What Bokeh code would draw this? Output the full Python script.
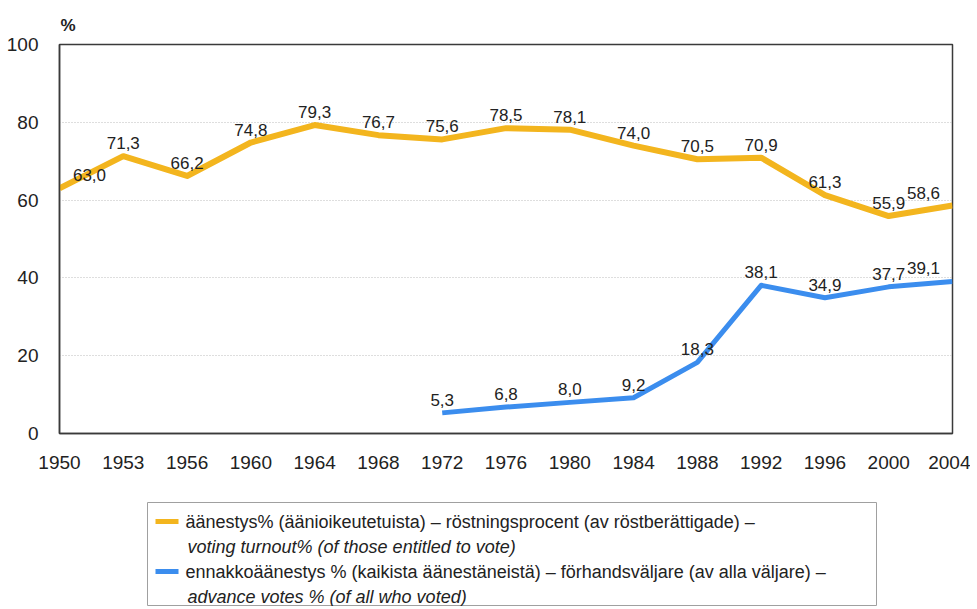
from bokeh.plotting import figure
from bokeh.models import ColumnDataSource, Range1d, FixedTicker, Spacer
from bokeh.layouts import column, row
from bokeh.embed import file_html
from bokeh.resources import INLINE
from bokeh.core.properties import value

years = ["1950", "1953", "1956", "1960", "1964", "1968", "1972", "1976",
         "1980", "1984", "1988", "1992", "1996", "2000", "2004"]
turnout = [63.0, 71.3, 66.2, 74.8, 79.3, 76.7, 75.6, 78.5, 78.1, 74.0,
           70.5, 70.9, 61.3, 55.9, 58.6]
advance_years = ["1972", "1976", "1980", "1984", "1988", "1992", "1996", "2000", "2004"]
advance = [5.3, 6.8, 8.0, 9.2, 18.3, 38.1, 34.9, 37.7, 39.1]
y_ticks = [0, 20, 40, 60, 80, 100]

legend_lines = [
    "äänestys% (äänioikeutetuista) – röstningsprocent (av röstberättigade) –",
    "voting turnout% (of those entitled to vote)",
    "ennakkoäänestys % (kaikista äänestäneistä) – förhandsväljare (av alla väljare)  –",
    "advance votes % (of all who voted)",
]

YELLOW = "#F3B51E"
BLUE = "#3B8DEE"
FONT = "Liberation Sans"
TXT = "#222222"

def fmt(v):
    return f"{v:.1f}".replace(".", ",")

def make_source(ys, vals):
    xs = [years.index(y) for y in ys]
    offs = [0] * len(xs)
    if xs[0] == 0:
        offs[0] = 30
    if xs[-1] == len(years) - 1:
        offs[-1] = -29
    return ColumnDataSource(dict(x=xs, y=vals, label=[fmt(v) for v in vals], xo=offs))

p = figure(width=970, height=502, output_backend="svg", toolbar_location=None,
           x_range=Range1d(0, len(years) - 1), y_range=Range1d(0, 100),
           min_border_left=59, min_border_right=18, min_border_top=44, min_border_bottom=69,
           title="%")
p.title.align = "left"
p.title.offset = 1
p.title.text_font = FONT
p.title.text_font_size = "17px"
p.title.text_font_style = "bold"
p.title.text_color = TXT
p.title.standoff = 19

p.background_fill_color = "white"
p.border_fill_color = "white"
p.outline_line_color = "#3a3a3a"
p.outline_line_width = 1.5

src_t = make_source(years, turnout)
src_a = make_source(advance_years, advance)

p.line("x", "y", source=src_t, line_color=YELLOW, line_width=6, line_join="round")
p.line("x", "y", source=src_a, line_color=BLUE, line_width=5, line_join="round")

for src in (src_t, src_a):
    p.text("x", "y", text="label", source=src, x_offset="xo", y_offset=-13,
           text_align="center", text_baseline="alphabetic",
           text_font=value(FONT), text_font_size="17px", text_color=TXT)

p.xaxis.ticker = FixedTicker(ticks=list(range(len(years))))
p.xaxis.major_label_overrides = {i: y for i, y in enumerate(years)}
p.yaxis.ticker = FixedTicker(ticks=y_ticks)
for ax in (p.xaxis, p.yaxis):
    ax.major_tick_line_color = None
    ax.minor_tick_line_color = None
    ax.axis_line_color = "#3a3a3a"
    ax.axis_line_width = 1.5
    ax.major_label_text_font = FONT
    ax.major_label_text_font_size = "19px"
    ax.major_label_text_color = TXT
p.xaxis.major_label_standoff = 16
p.yaxis.major_label_standoff = 15

p.xgrid.grid_line_color = None
p.ygrid.ticker = FixedTicker(ticks=[20, 40, 60, 80])
p.ygrid.grid_line_color = "#bdbdbd"
p.ygrid.grid_line_dash = "1 2"
p.ygrid.grid_line_width = 1

# legend box
lf = figure(width=730, height=104, output_backend="svg", toolbar_location=None,
            x_range=Range1d(0, 730), y_range=Range1d(104, 0),
            x_axis_type=None, y_axis_type=None,
            min_border_left=0, min_border_right=0, min_border_top=0, min_border_bottom=0)
lf.grid.visible = False
lf.outline_line_color = "#a0a0a0"
lf.outline_line_width = 1
lf.segment(x0=[8, 8], y0=[19, 69], x1=[31, 31], y1=[19, 69],
           line_color=[YELLOW, BLUE], line_width=5)
lf.text(x=[38, 40, 38, 40], y=[19, 44, 69, 94], text=legend_lines,
        text_align="left", text_baseline="middle",
        text_font=value(FONT), text_font_size="18px", text_color=TXT,
        text_font_style=["normal", "italic", "normal", "italic"])

layout = column(p, row(Spacer(width=147, height=104), lf), spacing=0)
open("out.html", "w").write(file_html(layout, INLINE))
